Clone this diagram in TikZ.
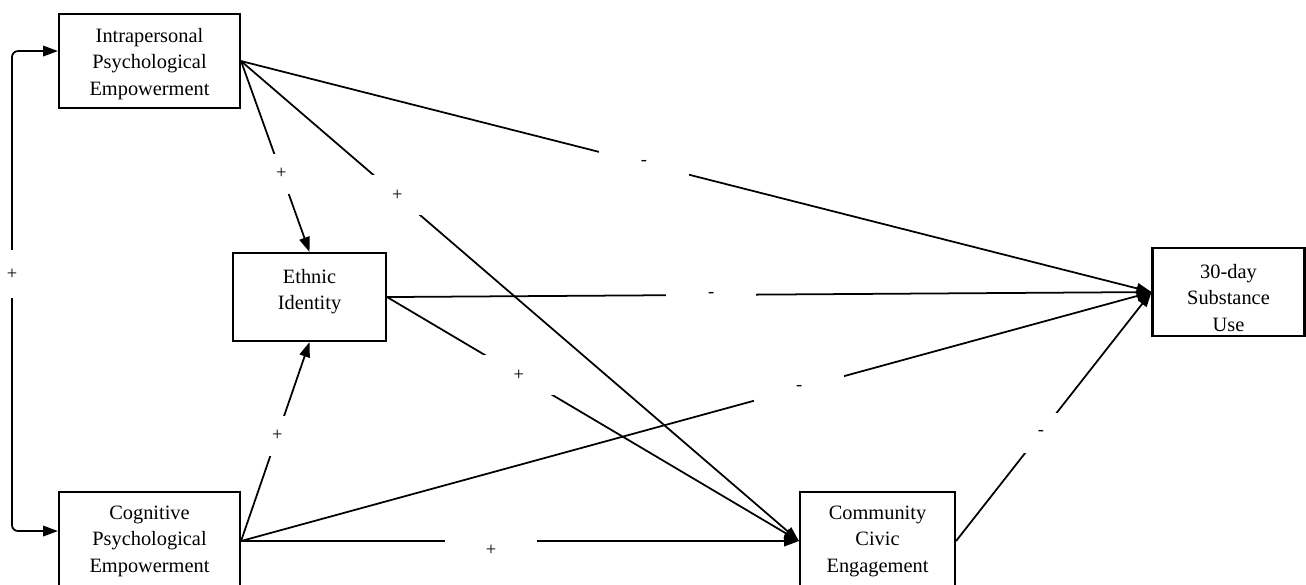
\documentclass[tikz,border=0pt]{standalone}
\usepackage{fontspec}
\setmainfont{Liberation Serif}
\usetikzlibrary{arrows.meta}

\begin{document}
\begin{tikzpicture}[>={Triangle[length=8.5pt,width=6pt]},x=0.02cm,y=-0.02cm,
    box/.style={draw,line width=1.2pt,anchor=north,align=center,inner sep=0pt,
        font=\fontsize{11.6}{15.2}\selectfont},
    conn/.style={->,line width=1pt},
    sign/.style={fill=white,inner sep=0pt,minimum width=1.8cm,minimum height=0.8cm,
        font=\fontsize{10.5}{12}\selectfont}]

\useasboundingbox (0,0) rectangle (1306,585);

% 变量框
\node[box,text width=3.62cm,text height=0.56cm,text depth=1.32cm] (intra) at (149.5,13) {Intrapersonal\\Psychological\\Empowerment};
\node[box,text width=3.06cm,text height=0.6cm,text depth=1.16cm] (ethnic) at (309.5,252) {Ethnic\\Identity};
\node[box,text width=3.62cm,text height=0.54cm,text depth=1.42cm] (cogn) at (149.5,491) {Cognitive\\Psychological\\Empowerment};
\node[box,text width=3.1cm,text height=0.54cm,text depth=1.42cm] (civic) at (877.5,491) {Community\\Civic\\Engagement};
\node[box,text width=3.04cm,text height=0.6cm,text depth=1.16cm] (subst) at (1228.5,247) {30-day\\Substance\\Use};

% 两类赋权之间的相关
\draw[conn,<->,rounded corners=0.12cm] ([yshift=0.2cm]intra.west) -| (12,274) node[sign,minimum height=0.96cm] {+} |- ([yshift=0.2cm]cogn.west);

% 路径（带符号）
\draw[conn] (intra.east) -- node[sign,pos=0.59] {+} (ethnic.north);
\draw[conn] (intra.east) -- node[sign,pos=0.28] {+} (civic.west);
\draw[conn] (intra.east) -- node[sign,pos=0.4425] {-} (subst.west);
\draw[conn] (ethnic.east) -- node[sign,pos=0.424] {-} (subst.west);
\draw[conn] (ethnic.east) -- node[sign,pos=0.32] {+} (civic.west);
\draw[conn] (cogn.east) -- node[sign,pos=0.53] {+} (ethnic.south);
\draw[conn] (cogn.east) -- node[sign,pos=0.613] {-} (subst.west);
\draw[conn] (cogn.east) -- node[sign,pos=0.448,anchor=north,yshift=0.4cm,minimum width=1.84cm,minimum height=0pt,text height=0.68cm,text depth=0.12cm] {+} (civic.west);
\draw[conn] (civic.east) -- node[sign,pos=0.435] {-} (subst.west);

\end{tikzpicture}
\end{document}
